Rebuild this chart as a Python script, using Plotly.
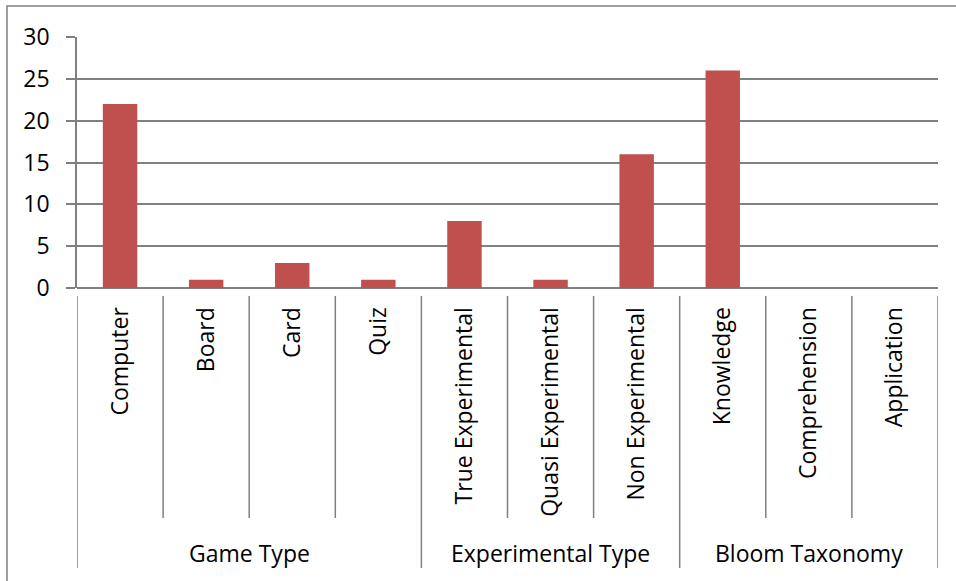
import plotly.graph_objects as go

categories = ["Computer", "Board", "Card", "Quiz", "True Experimental",
              "Quasi Experimental", "Non Experimental", "Knowledge",
              "Comprehension", "Application"]
values = [22, 1, 3, 1, 8, 1, 16, 26, 0, 0]
groups = ["Game Type", "Experimental Type", "Bloom Taxonomy"]
group_sizes = [4, 3, 3]
y_ticks = [0, 5, 10, 15, 20, 25, 30]

FONT = "Open Sans"
FS = 23
GRID = "#808080"
LW = 1.5

fig = go.Figure(go.Bar(x=categories, y=values, marker_color="#C0504D",
                       marker_line_width=0))

W, H = 956, 581
L, R, T, B = 77, 938, 37, 288
pw, ph = R - L, B - T

def py(pix):
    return (B - pix) / ph

def px(pix):
    return (pix - L) / pw

shapes = []
# outer frame
shapes.append(dict(type="rect", xref="paper", yref="paper",
                   x0=px(7), x1=px(962), y0=py(590), y1=py(6),
                   line=dict(color=GRID, width=LW), fillcolor="rgba(0,0,0,0)"))
# separators
bounds = [-0.5]
for s in group_sizes:
    bounds.append(bounds[-1] + s)
n = len(categories)
for i in range(n + 1):
    xb = i - 0.5
    is_group = any(abs(xb - b) < 1e-9 for b in bounds)
    shapes.append(dict(type="line", xref="x", yref="paper", x0=xb, x1=xb,
                       y0=py(296), y1=py(568 if is_group else 518),
                       line=dict(color=GRID, width=LW)))

annotations = []
start = -0.5
for g, s in zip(groups, group_sizes):
    annotations.append(dict(x=start + s / 2, y=py(553), xref="x", yref="paper",
                            text=g, showarrow=False,
                            font=dict(family=FONT, size=FS, color="black"),
                            xanchor="center", yanchor="middle"))
    start += s

fig.update_layout(
    width=W, height=H,
    margin=dict(l=L, r=W - R, t=T, b=H - B),
    paper_bgcolor="white", plot_bgcolor="white",
    showlegend=False, bargap=0.6,
    font=dict(family=FONT, size=FS, color="black"),
    shapes=shapes, annotations=annotations,
    xaxis=dict(type="category", tickangle=-90, showgrid=False,
               showline=False, ticks="outside", ticklen=8, tickwidth=1.3,
               tickcolor="rgba(0,0,0,0)", ticklabelstandoff=1,
               tickfont=dict(family=FONT, size=FS, color="black"),
               range=[-0.5, n - 0.5], zeroline=False),
    yaxis=dict(range=[0, 30], tickvals=y_ticks, showgrid=True,
               gridcolor=GRID, gridwidth=LW, showline=True,
               linecolor=GRID, linewidth=LW, ticks="outside", ticklen=9,
               tickcolor=GRID, tickwidth=LW, zeroline=True,
               zerolinecolor=GRID, zerolinewidth=LW,
               ticklabelstandoff=12,
               tickfont=dict(family=FONT, size=FS, color="black")),
)

fig.write_html("out.html", config={"displayModeBar": False},
               post_script="document.body.style.margin='0';document.body.style.overflow='hidden';")
